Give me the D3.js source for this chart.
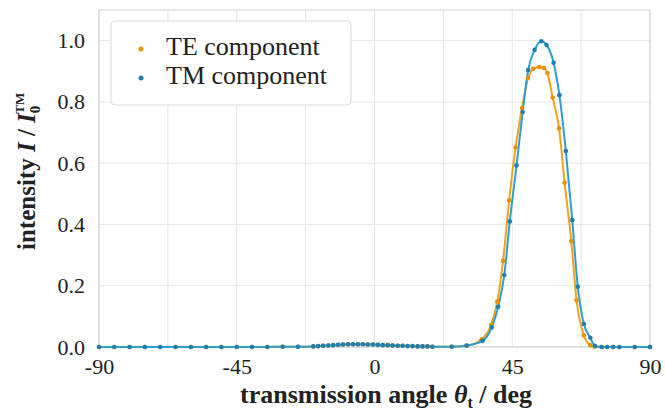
<!DOCTYPE html>
<html><head><meta charset="utf-8">
<script src="https://cdn.jsdelivr.net/npm/d3@7/dist/d3.min.js"></script>
<style>
html,body{margin:0;padding:0;background:#fff;}
svg{display:block;}
text{font-family:"Liberation Serif","DejaVu Serif",serif;fill:#222;}
</style></head><body>
<svg id="chart" width="665" height="411"></svg>
<script>
// ---- data ----
const teAngles = [-90,-85,-80,-75,-70,-65,-60,-55,-50,-45,-40,-35,-30,-25,-20,
  -18.4,-16.8,-15.1,-13.5,-11.9,-10.3,-8.6,-7.0,-5.4,-3.8,-2.2,-0.5,1.1,2.7,4.3,5.9,7.6,9.2,10.8,12.4,14.1,15.7,17.3,18.9,
  25.2,30.1,35.0,38.1,40.1,42.0,44.0,46.1,48.2,50.2,51.9,53.8,55.3,56.5,58.2,60.3,62.1,64.3,66.0,68.4,70.5,72.0,74.2,76.0,78.0,80.0,85.0,90];
const teValues = [0,0,0,0,0,0,0,0,0,0,0,0,0.001,0.001,0.002,
  0.003,0.004,0.005,0.006,0.007,0.008,0.009,0.009,0.009,0.009,0.008,0.008,0.007,0.006,0.006,0.005,0.004,0.004,0.003,0.003,0.002,0.002,0.002,0.001,
  0.001,0.004,0.025,0.072,0.148,0.281,0.479,0.652,0.780,0.879,0.908,0.914,0.911,0.894,0.814,0.714,0.536,0.345,0.153,0.038,0.006,0.001,0,0,0,0,0,0];
const tmAngles = [-90,-85,-80,-75,-70,-65,-60,-55,-50,-45,-40,-35,-30,-25,-20,
  -18.4,-16.8,-15.1,-13.5,-11.9,-10.3,-8.6,-7.0,-5.4,-3.8,-2.2,-0.5,1.1,2.7,4.3,5.9,7.6,9.2,10.8,12.4,14.1,15.7,17.3,18.9,
  25.2,30.1,35.3,38.3,40.4,42.4,44.2,46.4,48.4,50.2,52.3,54.5,56.2,58.5,60.4,62.5,64.6,66.4,68.4,70.5,72.0,74.2,76.0,78.0,80.0,85.0,90];
const tmValues = [0,0,0,0,0,0,0,0,0,0,0,0,0.001,0.001,0.002,
  0.003,0.004,0.005,0.006,0.007,0.008,0.009,0.009,0.009,0.009,0.008,0.008,0.007,0.006,0.006,0.005,0.004,0.004,0.003,0.003,0.002,0.002,0.002,0.001,
  0.001,0.005,0.020,0.064,0.131,0.235,0.410,0.593,0.767,0.904,0.970,0.998,0.986,0.928,0.822,0.640,0.414,0.197,0.075,0.030,0.004,0,0,0,0,0,0];
const xTickLabels = [-90,-45,0,45,90];
const yTickLabels = [0.0,0.2,0.4,0.6,0.8,1.0];
const seriesNames = ["TE component","TM component"];

// ---- layout ----
const L=99, R=650, T=10, B=347;
const svg=d3.select("#chart");
const x=d3.scaleLinear().domain([-90,90]).range([L,R]);
const y=d3.scaleLinear().domain([0,1.1]).range([B,T]);
const colors={te:{line:"#f4a11b",dot:"#e8920a"},tm:{line:"#2a9fd0",dot:"#1e7fb3"}};

// grid
const gx=d3.range(-90,90.1,22.5);
svg.append("g").selectAll("line").data(gx).join("line")
  .attr("x1",d=>x(d)).attr("x2",d=>x(d)).attr("y1",T).attr("y2",B)
  .attr("stroke","#e6e6e6").attr("stroke-width",1);
svg.append("g").selectAll("line").data(yTickLabels).join("line")
  .attr("x1",L).attr("x2",R).attr("y1",d=>y(d)).attr("y2",d=>y(d))
  .attr("stroke","#e6e6e6").attr("stroke-width",1);
// frame
svg.append("rect").attr("x",L).attr("y",T).attr("width",R-L).attr("height",B-T)
  .attr("fill","none").attr("stroke","#cfcfcf").attr("stroke-width",1);

// axes (tick labels)
const xAxis=d3.axisBottom(x).tickValues(xTickLabels).tickSize(0).tickPadding(14).tickFormat(d=>String(d));
const gX=svg.append("g").attr("transform",`translate(0,${B})`).call(xAxis);
gX.select(".domain").remove();
gX.selectAll("text").attr("font-size",22).attr("fill","#222").attr("font-family","Liberation Serif, serif").attr("dy","0.6em");
const yAxis=d3.axisLeft(y).tickValues(yTickLabels).tickSize(0).tickPadding(14).tickFormat(d=>d.toFixed(1));
const gY=svg.append("g").attr("transform",`translate(${L},0)`).call(yAxis);
gY.select(".domain").remove();
gY.selectAll("text").attr("font-size",22).attr("fill","#222").attr("font-family","Liberation Serif, serif");

// series
const line=d3.line().x(d=>x(d[0])).y(d=>y(d[1])).curve(d3.curveMonotoneX);
const te=d3.zip(teAngles,teValues), tm=d3.zip(tmAngles,tmValues);
svg.append("path").datum(te).attr("d",line).attr("fill","none").attr("stroke",colors.te.line).attr("stroke-width",2);
svg.append("path").datum(tm).attr("d",line).attr("fill","none").attr("stroke",colors.tm.line).attr("stroke-width",2);
svg.append("g").selectAll("circle").data(te).join("circle")
  .attr("cx",d=>x(d[0])).attr("cy",d=>y(d[1])).attr("r",2.3).attr("fill",colors.te.dot);
svg.append("g").selectAll("circle").data(tm).join("circle")
  .attr("cx",d=>x(d[0])).attr("cy",d=>y(d[1])).attr("r",2.3).attr("fill",colors.tm.dot);

// legend
const lg=svg.append("g");
lg.append("rect").attr("x",111).attr("y",21).attr("width",240).attr("height",84).attr("rx",4)
  .attr("fill","#fff").attr("fill-opacity",0.9).attr("stroke","#d9d9d9");
[[colors.te.dot,49,seriesNames[0]],[colors.tm.dot,78,seriesNames[1]]].forEach(([c,yy,t])=>{
  lg.append("circle").attr("cx",141).attr("cy",yy).attr("r",2.5).attr("fill",c);
  lg.append("text").attr("x",166).attr("y",yy+6).attr("font-size",26).text(t);
});

// x label
const xl=svg.append("text").attr("x",386).attr("y",403).attr("text-anchor","middle").attr("font-size",26).attr("font-weight","bold");
xl.append("tspan").text("transmission angle ");
xl.append("tspan").attr("font-style","italic").text("θ");
xl.append("tspan").attr("font-size",16).attr("dy",5).text("t");
xl.append("tspan").attr("dy",-5).text(" / deg");

// y label
const yl=svg.append("text").attr("transform","translate(35,250) rotate(-90)").attr("font-size",25).attr("font-weight","bold");
yl.append("tspan").text("intensity ");
yl.append("tspan").attr("font-style","italic").text("I");
yl.append("tspan").text(" / ");
yl.append("tspan").attr("font-style","italic").text("I");
yl.append("tspan").attr("font-size",15).attr("dy",5).text("0");
yl.append("tspan").attr("font-size",13).attr("dx",-8).attr("dy",-16).text("TM");
</script>
</body></html>
